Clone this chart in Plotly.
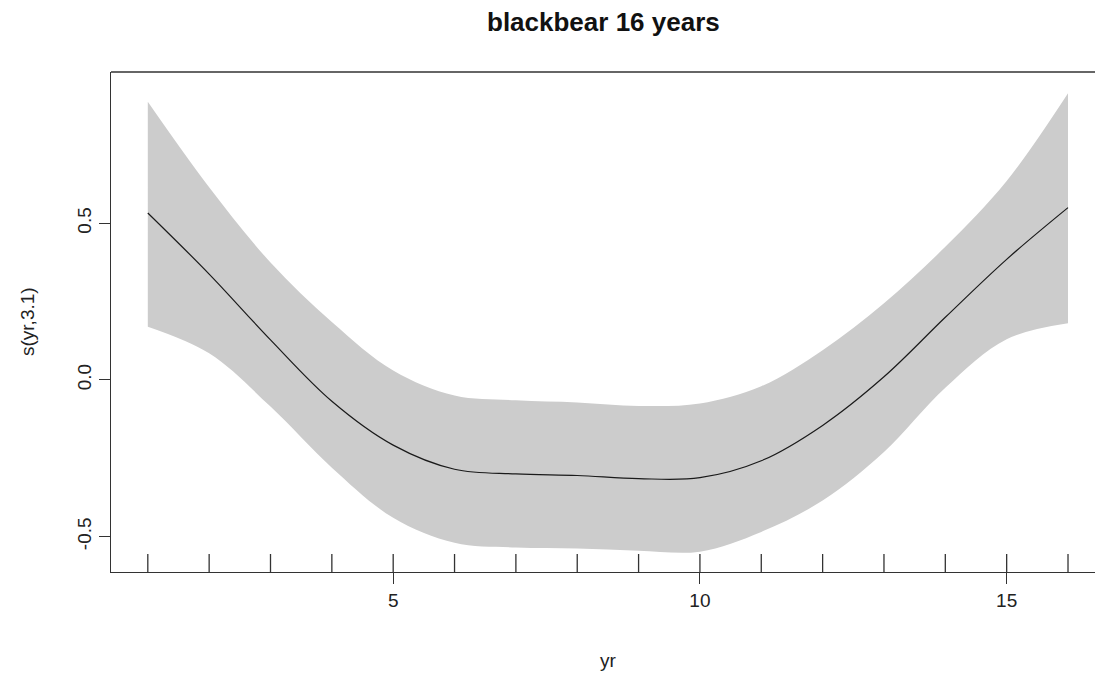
import plotly.graph_objects as go

# Smooth term s(yr, 3.1) from the GAM fit, evaluated at each observed year,
# with its +/- 2 s.e. band
yr = list(range(1, 17))
fit = [0.533, 0.338, 0.128, -0.068, -0.208, -0.285, -0.300, -0.305,
       -0.315, -0.312, -0.258, -0.145, 0.010, 0.200, 0.385, 0.550]
upper = [0.888, 0.615, 0.375, 0.185, 0.030, -0.050, -0.065, -0.072,
         -0.083, -0.075, -0.020, 0.095, 0.245, 0.425, 0.635, 0.915]
lower = [0.170, 0.085, -0.085, -0.280, -0.440, -0.520, -0.535, -0.538,
         -0.545, -0.548, -0.485, -0.385, -0.230, -0.025, 0.130, 0.181]

x_ticks = [5, 10, 15]
y_ticks = [-0.5, 0.0, 0.5]
y_tick_text = ["-0.5", "0.0", "0.5"]

FONT = "Liberation Sans, Arial, sans-serif"
AXIS_COLOR = "#333333"
TEXT_COLOR = "#222222"

fig = go.Figure()

# confidence band
fig.add_trace(go.Scatter(x=yr, y=lower, mode="lines",
                         line=dict(width=0, shape="spline", color="#cccccc"),
                         hoverinfo="skip", showlegend=False))
fig.add_trace(go.Scatter(x=yr, y=upper, mode="lines", fill="tonexty",
                         fillcolor="#cccccc",
                         line=dict(width=0, shape="spline", color="#cccccc"),
                         hoverinfo="skip", showlegend=False))
# fitted smooth
fig.add_trace(go.Scatter(x=yr, y=fit, mode="lines",
                         line=dict(width=1.2, shape="spline", color="#1a1a1a"),
                         showlegend=False))

# rug of observed years along the bottom axis
shapes = [dict(type="line", xref="x", yref="paper", x0=v, x1=v, y0=0, y1=0.036,
               line=dict(color=AXIS_COLOR, width=1.3), layer="above") for v in yr]
# top border of the plotting box
shapes.append(dict(type="line", xref="paper", yref="paper", x0=0, x1=1, y0=1, y1=1,
                   line=dict(color=AXIS_COLOR, width=1.3), layer="above"))

W, H = 1095, 673
fig.update_layout(
    width=W, height=H,
    margin=dict(l=111, r=0, t=72, b=101),
    paper_bgcolor="white", plot_bgcolor="white",
    font=dict(family=FONT, size=19, color=TEXT_COLOR),
    shapes=shapes,
    annotations=[
        dict(text="<b>blackbear 16 years</b>", xref="paper", yref="paper",
             x=(603 - 111) / (W - 111), y=1, yshift=50, showarrow=False,
             xanchor="center", yanchor="middle",
             font=dict(family=FONT, size=26, color="#111111")),
        dict(text="yr", xref="paper", yref="paper",
             x=(608 - 111) / (W - 111), y=0, yshift=-88, showarrow=False,
             xanchor="center", yanchor="middle",
             font=dict(family=FONT, size=19, color=TEXT_COLOR)),
        dict(text="s(yr,3.1)", xref="paper", yref="paper",
             x=0, xshift=-84, y=0.5, showarrow=False, textangle=-90,
             xanchor="center", yanchor="middle",
             font=dict(family=FONT, size=19, color=TEXT_COLOR)),
    ],
)

fig.update_xaxes(
    range=[0.4, 16.44], showgrid=False, zeroline=False,
    showline=True, linecolor=AXIS_COLOR, linewidth=1.3,
    tickmode="array", tickvals=x_ticks, ticktext=[str(v) for v in x_ticks],
    ticks="outside", ticklen=11, tickwidth=1.3, tickcolor=AXIS_COLOR,
    tickfont=dict(size=19, color=TEXT_COLOR),
)
fig.update_yaxes(
    range=[-0.613, 0.983], showgrid=False, zeroline=False,
    showline=True, linecolor=AXIS_COLOR, linewidth=1.3,
    tickmode="array", tickvals=y_ticks, ticktext=y_tick_text,
    ticks="outside", ticklen=11, tickwidth=1.3, tickcolor=AXIS_COLOR,
    tickangle=-90, tickfont=dict(size=19, color=TEXT_COLOR),
)

fig.write_html("out.html")
